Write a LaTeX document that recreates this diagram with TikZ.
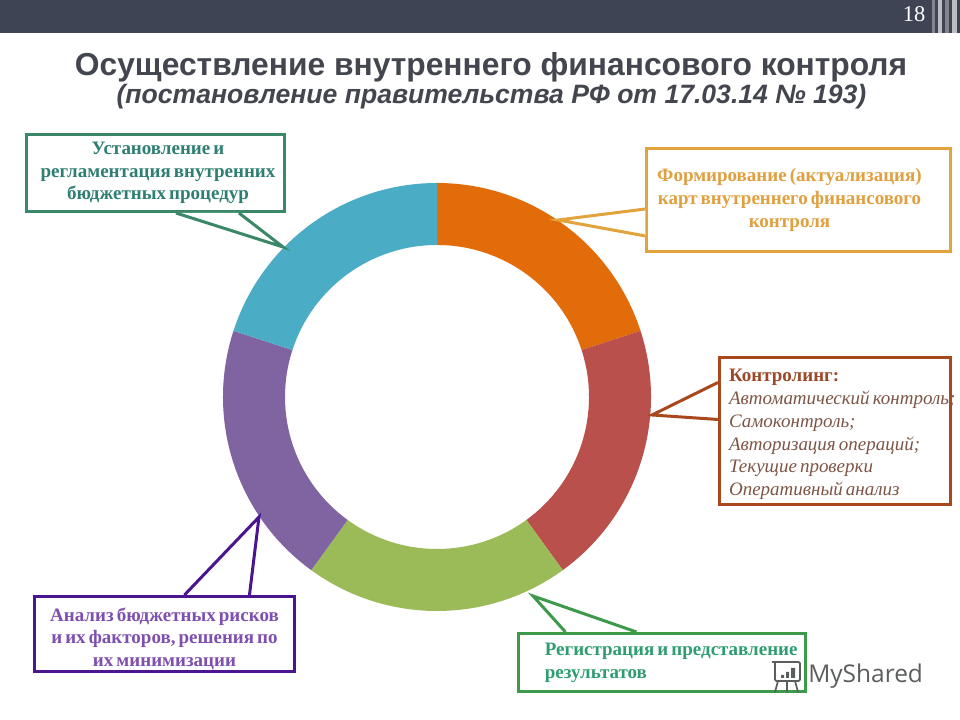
\documentclass[tikz,border=0pt]{standalone}
\usepackage{fontspec}
\setmainfont[WordSpace=0.65]{Liberation Serif}
\setsansfont{Liberation Sans}
\newfontfamily\markfont{Open Sans}
\usetikzlibrary{calc}
\definecolor{BarInk}{HTML}{3F4454}
\definecolor{TitleInk}{HTML}{44464F}
\definecolor{SegOrange}{HTML}{E36C0A}
\definecolor{SegRed}{HTML}{B9504C}
\definecolor{SegGreen}{HTML}{9BBB59}
\definecolor{SegPurple}{HTML}{8064A2}
\definecolor{SegTeal}{HTML}{4BACC6}
\definecolor{RegLine}{HTML}{3B8868}
\definecolor{RegText}{HTML}{2E7F72}
\definecolor{KartLine}{HTML}{E2A33C}
\definecolor{KartText}{HTML}{E0A040}
\definecolor{KontrLine}{HTML}{A8481C}
\definecolor{KontrText}{HTML}{9A4A28}
\definecolor{KontrSoft}{HTML}{7D5546}
\definecolor{RepLine}{HTML}{3D9A4A}
\definecolor{RepText}{HTML}{2E9E70}
\definecolor{RiskLine}{HTML}{4B1590}
\definecolor{RiskText}{HTML}{7F4FB0}
\definecolor{MarkInk}{HTML}{5A5F5C}

\begin{document}
\begin{tikzpicture}[
    x=0.025cm,
    y=0.025cm,
    title/.style={font=\sffamily\bfseries\fontsize{22.6}{26}\selectfont, text=TitleInk},
    subtitle/.style={font=\sffamily\bfseries\itshape\fontsize{18.9}{22}\selectfont, text=TitleInk},
    callbox/.style={draw=#1, fill=white, line width=2.13pt, align=center, inner sep=0pt, font=\rmfamily\bfseries\fontsize{13.5}{16.2}\selectfont},
    leftbox/.style 2 args={align=flush left, text width=#1, execute at begin node={\leftskip=#2}, execute at end node={\endgraf}},
    offbox/.style n args={3}{align=flush center, text width=#1, execute at begin node={\leftskip=#2 plus 1fil\rightskip=#3 plus 1fil}, execute at end node={\endgraf}},
    calltail/.style={draw=#1, fill=white, line width=2.13pt, line join=miter}
]

\useasboundingbox (0,0) rectangle (960,720);
\fill[white] (0,0) rectangle (960,720);

\fill[BarInk] (0,687) rectangle (960,720);
\fill[BarInk!65!white] (932,687) rectangle (935,720);
\fill[BarInk!35!white] (938,687) rectangle (942,720);
\fill[BarInk!65!white] (945,687) rectangle (949,720);
\fill[BarInk!35!white] (952,687) rectangle (957,720);

\node[font=\rmfamily\fontsize{16}{18}\selectfont, text=white] (pagenum) at (914,705.5) {18};
\node[title] (heading) at (491,652.5) {Осуществление внутреннего финансового контроля};
\node[subtitle] (subheading) at (491.5,623.5) {(постановление правительства РФ от 17.03.14 № 193)};

\fill[SegOrange] (437,323) ++(90:214) arc[start angle=90, end angle=18, radius=214] -- ++(198:62) arc[start angle=18, end angle=90, radius=152] -- cycle;
\fill[SegRed] (437,323) ++(18:214) arc[start angle=18, end angle=-54, radius=214] -- ++(126:62) arc[start angle=-54, end angle=18, radius=152] -- cycle;
\fill[SegGreen] (437,323) ++(-54:214) arc[start angle=-54, end angle=-126, radius=214] -- ++(54:62) arc[start angle=-126, end angle=-54, radius=152] -- cycle;
\fill[SegPurple] (437,323) ++(-126:214) arc[start angle=-126, end angle=-198, radius=214] -- ++(-18:62) arc[start angle=-198, end angle=-126, radius=152] -- cycle;
\fill[SegTeal] (437,323) ++(162:214) arc[start angle=162, end angle=90, radius=214] -- ++(-90:62) arc[start angle=90, end angle=162, radius=152] -- cycle;

\node[callbox=RegLine, text=RegText, offbox={6.45cm}{0.125cm}{0cm}, minimum width=6.45cm, minimum height=1.925cm] (reglament) at (155.5,547)
{Установление и\\ регламентация внутренних\\ бюджетных процедур};
\coordinate (reglamentTip) at (283,473);
\draw[calltail=RegLine] ($(reglament.south west)+(151,0)$) -- (reglamentTip) -- ($(reglament.south west)+(214,0)$);

\node[callbox=KartLine, text=KartText, offbox={7.58cm}{0cm}{0.45cm}, minimum width=7.58cm, minimum height=2.575cm] (karty) at (798.5,520)
{Формирование (актуализация)\\ карт внутреннего финансового\\ контроля};
\coordinate (kartyTip) at (558,500);
\draw[calltail=KartLine] ($(karty.north west)+(0,-62)$) -- (kartyTip) -- ($(karty.north west)+(0,-89)$);

\node[callbox=KontrLine, text=KontrText, leftbox={5.775cm}{0.24cm}, minimum width=5.775cm, minimum height=3.65cm] (kontroling) at (835,289)
{\rule{0pt}{14pt}Контролинг:\\
\mbox{\mdseries\itshape\color{KontrSoft}Автоматический контроль;}\\
{\mdseries\itshape\color{KontrSoft}Самоконтроль;}\\
{\mdseries\itshape\color{KontrSoft}Авторизация операций;}\\
{\mdseries\itshape\color{KontrSoft}Текущие проверки}\\
{\mdseries\itshape\color{KontrSoft}Оперативный анализ}};
\coordinate (kontrolingTip) at (652,305);
\draw[calltail=KontrLine] ($(kontroling.north west)+(0,-26)$) -- (kontrolingTip) -- ($(kontroling.north west)+(0,-63)$);

\node[callbox=RepLine, text=RepText, leftbox={7.175cm}{0.66cm}, minimum width=7.175cm, minimum height=1.45cm] (registr) at (662,57.5)
{\mbox{Регистрация и представление}\\ результатов};
\coordinate (registrTip) at (533,124);
\draw[calltail=RepLine] ($(registr.north west)+(48.5,0)$) -- (registrTip) -- ($(registr.north west)+(119.5,0)$);

\node[callbox=RiskLine, text=RiskText, minimum width=6.5cm, minimum height=1.875cm] (riski) at (164.5,86)
{\rule{0pt}{16.3pt}Анализ бюджетных рисков\\ и их факторов, решения по\\ их минимизации};
\coordinate (riskiTip) at (259,203);
\draw[calltail=RiskLine] ($(riski.north west)+(151.5,0)$) -- (riskiTip) -- ($(riski.north west)+(216.5,0)$);

\node[font=\markfont\fontsize{17.4}{20}\selectfont, text=MarkInk, anchor=base west, inner sep=0pt] (myshared) at (808,37) {MyShared};
\draw[MarkInk, line width=1.2pt, rounded corners=1pt] (772,58) -- (800,58) -- (800,39) -- (775,39) -- (775,58);
\draw[MarkInk, line width=1.2pt] (778,39) -- (775,28) (795,39) -- (798,28) (787,39) -- (787,28);
\fill[MarkInk] (781,42) rectangle (784,45) (786,42) rectangle (789,48) (791,42) rectangle (795,52);

\end{tikzpicture}
\end{document}
